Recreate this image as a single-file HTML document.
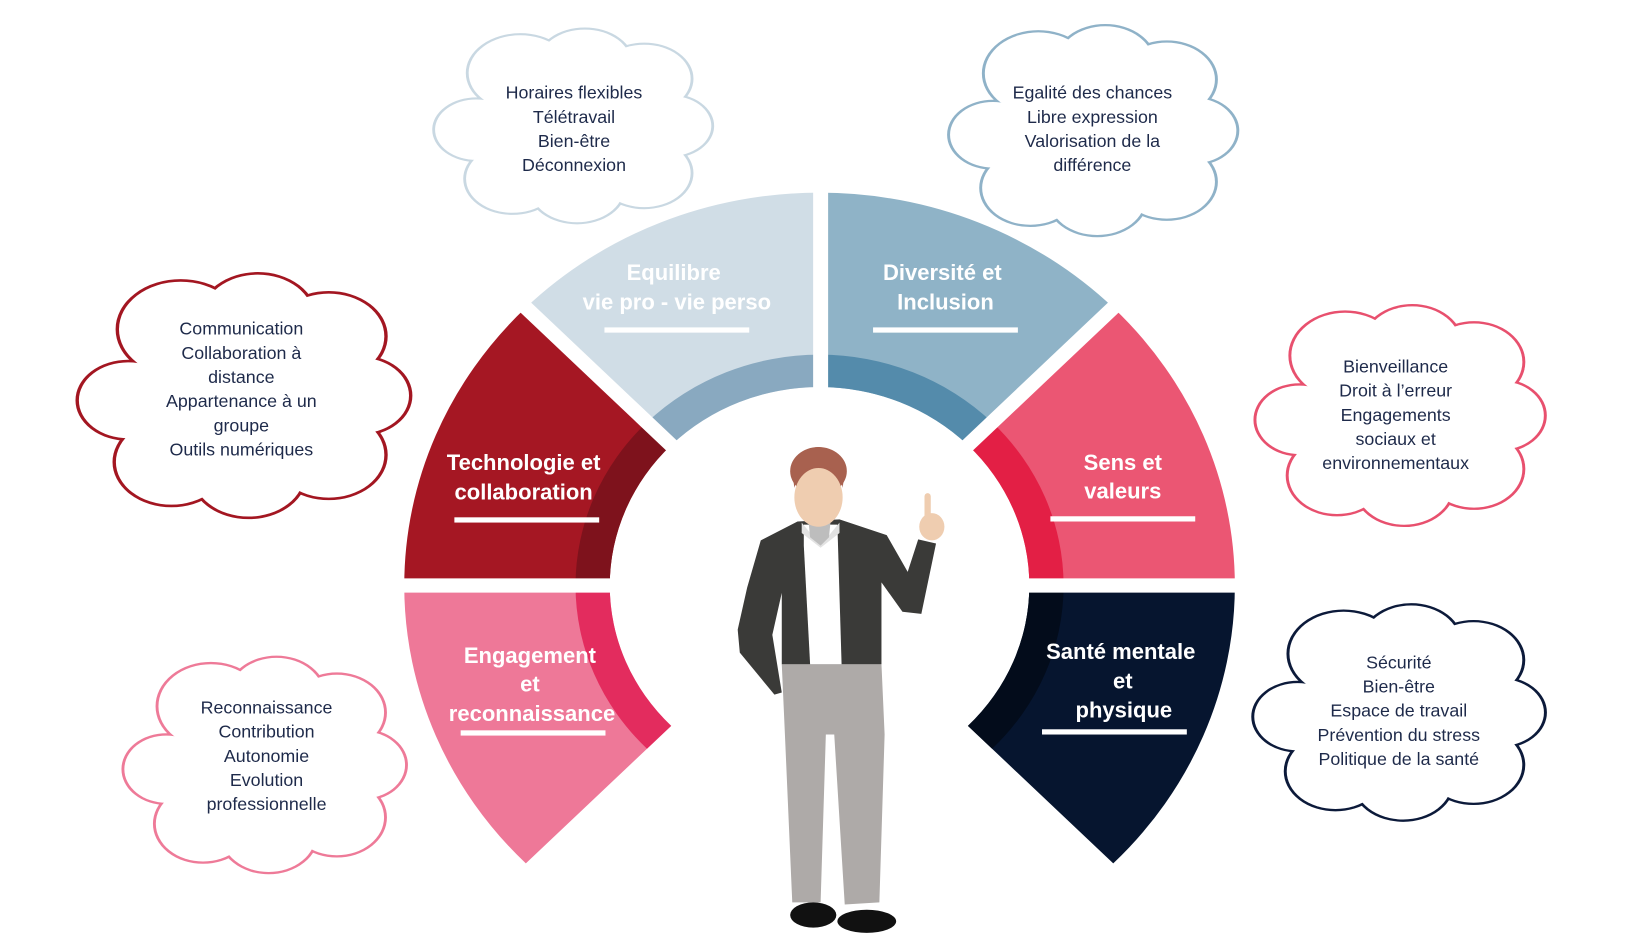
<!DOCTYPE html>
<html><head><meta charset="utf-8"><style>
html,body{margin:0;padding:0;background:#fff;}
svg{display:block;}
.lb{font-family:"Liberation Sans",sans-serif;font-weight:bold;font-size:21px;fill:#fff;text-anchor:middle;}
.ct{font-family:"Liberation Sans",sans-serif;font-size:17px;fill:#1e2a4a;text-anchor:middle;}
</style></head><body>
<svg width="1637" height="936" viewBox="0 0 1560 892" preserveAspectRatio="none" xmlns="http://www.w3.org/2000/svg">
<defs>
<g id="cl">
<circle cx="30" cy="22" r="20"/><circle cx="55" cy="17" r="18"/><circle cx="78" cy="25" r="18"/><circle cx="88" cy="50" r="16"/><circle cx="78" cy="75" r="18"/><circle cx="52" cy="83" r="18"/><circle cx="27" cy="78" r="18"/><circle cx="13" cy="52" r="16"/><circle cx="50" cy="50" r="36"/>
</g>
</defs>
<rect width="1560" height="892" fill="#fff"/>

<g transform="translate(781,558) scale(1.02,0.965) translate(-780,-558)">
<path d="M780,170 A388,388 0 0 0 505.6,283.6 L641.4,419.4 A196,196 0 0 1 780,362 Z" fill="#d0dde6"/>
<path d="M780,330 A228,228 0 0 0 618.8,396.8 L641.4,419.4 A196,196 0 0 1 780,362 Z" fill="#89a9c0"/>
<path d="M780,170 A388,388 0 0 1 1054.4,283.6 L918.6,419.4 A196,196 0 0 0 780,362 Z" fill="#8fb3c7"/>
<path d="M780,330 A228,228 0 0 1 941.2,396.8 L918.6,419.4 A196,196 0 0 0 780,362 Z" fill="#548bab"/>
<path d="M505.6,283.6 A388,388 0 0 0 392,558 L584,558 A196,196 0 0 1 641.4,419.4 Z" fill="#a51723"/>
<path d="M618.8,396.8 A228,228 0 0 0 552,558 L584,558 A196,196 0 0 1 641.4,419.4 Z" fill="#7e121c"/>
<path d="M1054.4,283.6 A388,388 0 0 1 1168,558 L976,558 A196,196 0 0 0 918.6,419.4 Z" fill="#eb5673"/>
<path d="M941.2,396.8 A228,228 0 0 1 1008,558 L976,558 A196,196 0 0 0 918.6,419.4 Z" fill="#e31f45"/>
<path d="M392,558 A388,388 0 0 0 505.6,832.4 L641.4,696.6 A196,196 0 0 1 584,558 Z" fill="#ee7898"/>
<path d="M552,558 A228,228 0 0 0 618.8,719.2 L641.4,696.6 A196,196 0 0 1 584,558 Z" fill="#e32c5e"/>
<path d="M1168,558 A388,388 0 0 1 1054.4,832.4 L918.6,696.6 A196,196 0 0 0 976,558 Z" fill="#06152f"/>
<path d="M1008,558 A228,228 0 0 1 941.2,719.2 L918.6,696.6 A196,196 0 0 0 976,558 Z" fill="#030c1b"/>
<g stroke="#fff" stroke-width="14">
<line x1="781" y1="100" x2="781" y2="560"/>
<line x1="300" y1="558" x2="1260" y2="558"/>
<line x1="780" y1="558" x2="480" y2="258"/>
<line x1="780" y1="558" x2="1080" y2="258"/>
</g>
</g>

<text class="lb" x="642" y="267">Equilibre</text>
<text class="lb" x="645" y="295">vie pro - vie perso</text>
<rect x="576" y="312" width="138" height="5" fill="#fff"/>
<text class="lb" x="898" y="267">Diversité et</text>
<text class="lb" x="901" y="295">Inclusion</text>
<rect x="832" y="312" width="138" height="5" fill="#fff"/>
<text class="lb" x="499" y="448">Technologie et</text>
<text class="lb" x="499" y="476">collaboration</text>
<rect x="433" y="493" width="138" height="5" fill="#fff"/>
<text class="lb" x="1070" y="448">Sens et</text>
<text class="lb" x="1070" y="475">valeurs</text>
<rect x="1001" y="492" width="138" height="5" fill="#fff"/>
<text class="lb" x="505" y="632">Engagement</text>
<text class="lb" x="505" y="659">et</text>
<text class="lb" x="507" y="687">reconnaissance</text>
<rect x="439" y="696" width="138" height="5" fill="#fff"/>
<text class="lb" x="1068" y="628">Santé mentale</text>
<text class="lb" x="1070" y="656">et</text>
<text class="lb" x="1071" y="684">physique</text>
<rect x="993" y="695" width="138" height="5" fill="#fff"/>

<g transform="translate(422,30) scale(2.46,1.8)"><use href="#cl" fill="none" stroke="#c9d8e2" stroke-width="2.2" vector-effect="non-scaling-stroke"/><use href="#cl" fill="#fff"/></g>
<g transform="translate(913,27) scale(2.55,1.95)"><use href="#cl" fill="none" stroke="#8fb2c8" stroke-width="2.2" vector-effect="non-scaling-stroke"/><use href="#cl" fill="#fff"/></g>
<g transform="translate(84,264) scale(2.94,2.26)"><use href="#cl" fill="none" stroke="#a31621" stroke-width="2.2" vector-effect="non-scaling-stroke"/><use href="#cl" fill="#fff"/></g>
<g transform="translate(1205,294) scale(2.56,2.04)"><use href="#cl" fill="none" stroke="#e8506e" stroke-width="2.2" vector-effect="non-scaling-stroke"/><use href="#cl" fill="#fff"/></g>
<g transform="translate(126,629) scale(2.5,2.0)"><use href="#cl" fill="none" stroke="#ee7a98" stroke-width="2.2" vector-effect="non-scaling-stroke"/><use href="#cl" fill="#fff"/></g>
<g transform="translate(1203,579) scale(2.58,2.0)"><use href="#cl" fill="none" stroke="#0c1a3a" stroke-width="2.2" vector-effect="non-scaling-stroke"/><use href="#cl" fill="#fff"/></g>

<text class="ct" x="547" y="94">Horaires flexibles</text>
<text class="ct" x="547" y="117">Télétravail</text>
<text class="ct" x="547" y="140">Bien-être</text>
<text class="ct" x="547" y="163">Déconnexion</text>
<text class="ct" x="1041" y="94">Egalité des chances</text>
<text class="ct" x="1041" y="117">Libre expression</text>
<text class="ct" x="1041" y="140">Valorisation de la</text>
<text class="ct" x="1041" y="163">différence</text>
<text class="ct" x="230" y="319">Communication</text>
<text class="ct" x="230" y="342">Collaboration à</text>
<text class="ct" x="230" y="365">distance</text>
<text class="ct" x="230" y="388">Appartenance à un</text>
<text class="ct" x="230" y="411">groupe</text>
<text class="ct" x="230" y="434">Outils numériques</text>
<text class="ct" x="1330" y="355">Bienveillance</text>
<text class="ct" x="1330" y="378">Droit à l’erreur</text>
<text class="ct" x="1330" y="401">Engagements</text>
<text class="ct" x="1330" y="424">sociaux et</text>
<text class="ct" x="1330" y="447">environnementaux</text>
<text class="ct" x="254" y="680">Reconnaissance</text>
<text class="ct" x="254" y="703">Contribution</text>
<text class="ct" x="254" y="726">Autonomie</text>
<text class="ct" x="254" y="749">Evolution</text>
<text class="ct" x="254" y="772">professionnelle</text>
<text class="ct" x="1333" y="637">Sécurité</text>
<text class="ct" x="1333" y="660">Bien-être</text>
<text class="ct" x="1333" y="683">Espace de travail</text>
<text class="ct" x="1333" y="706">Prévention du stress</text>
<text class="ct" x="1333" y="729">Politique de la santé</text>

<polygon points="745,633 840,633 843,700 838,860 805,862 795,700 787,700 782,860 755,860 748,700" fill="#aeaaa8"/>
<ellipse cx="775" cy="872" rx="22" ry="12" fill="#111"/>
<ellipse cx="826" cy="878" rx="28" ry="11" fill="#111"/>
<polygon points="760,497 725,515 712,560 703,600 705,622 738,662 745,660 736,605 745,565 745,633 840,633 840,555 860,583 878,585 892,518 875,514 865,545 845,510 800,495" fill="#3a3a38"/>
<polygon points="766,500 798,500 802,633 772,633 766,520" fill="#fff"/>
<polygon points="764,498 782,520 800,498 800,508 782,522 764,508" fill="#e2e2e2"/>
<polygon points="770,492 792,492 790,512 782,520 772,512" fill="#bdbdbd"/>
<rect x="881" y="470" width="6" height="28" rx="3" fill="#efcdb0"/>
<ellipse cx="888" cy="502" rx="12" ry="13" fill="#efcdb0"/>
<ellipse cx="780" cy="449" rx="27" ry="23" fill="#a8614f"/>
<ellipse cx="780" cy="474" rx="23" ry="28" fill="#efcdb0"/>
<path d="M757,465 Q762,442 782,446 Q800,442 803,465 L805,450 Q800,428 780,426 Q756,428 755,450 Z" fill="#a8614f"/>
</svg>
</body></html>
